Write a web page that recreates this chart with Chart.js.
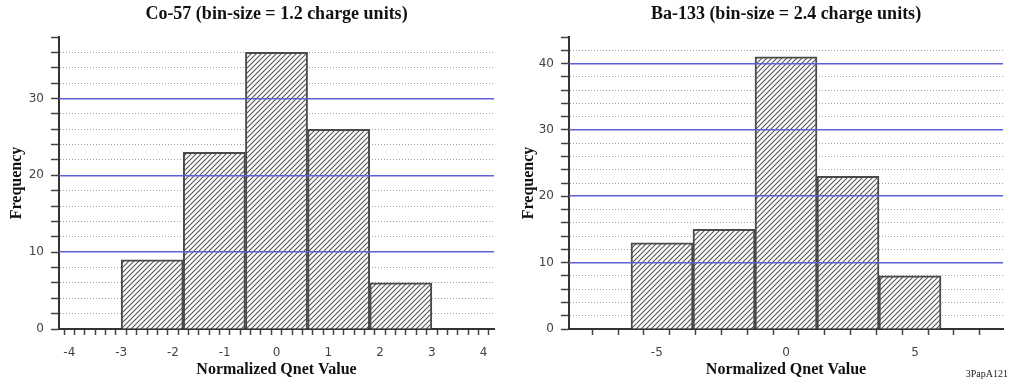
<!DOCTYPE html>
<html>
<head>
<meta charset="utf-8">
<script src="https://cdn.jsdelivr.net/npm/chart.js@4/dist/chart.umd.min.js"></script>
<style>
  html, body { margin: 0; padding: 0; background: #fff; }
  #wrap { position: relative; width: 1011px; height: 385px; }
  .pane { position: absolute; top: 0; height: 385px; }
  #left { left: 0; width: 505px; }
  #right { left: 505px; width: 506px; }
</style>
</head>
<body>
<div id="wrap">
  <div class="pane" id="left"><canvas id="co57"></canvas></div>
  <div class="pane" id="right"><canvas id="ba133"></canvas></div>
</div>
<script>
// Co-57 histogram: bin centres (bin width 1.2) and counts
const coBinCenters = [-2.4, -1.2, 0, 1.2, 2.4];
const coCounts = [9, 23, 36, 26, 6];
const coTitle = 'Co-57 (bin-size = 1.2 charge units)';

// Ba-133 histogram: bin centres (bin width 2.4) and counts
const baBinCenters = [-4.8, -2.4, 0, 2.4, 4.8];
const baCounts = [13, 15, 41, 23, 8];
const baTitle = 'Ba-133 (bin-size = 2.4 charge units)';

// Axis labels
const xAxisLabel = 'Normalized Qnet Value';
const yAxisLabel = 'Frequency';
const figureTag = '3PapA121';

// Diagonal hatch fill for the bars
function makeHatch() {
  const s = 5;
  const c = document.createElement('canvas');
  c.width = s; c.height = s;
  const g = c.getContext('2d');
  g.fillStyle = '#ffffff';
  g.fillRect(0, 0, s, s);
  g.strokeStyle = '#555555';
  g.lineWidth = 1.1;
  g.beginPath();
  g.moveTo(0, s); g.lineTo(s, 0);
  g.moveTo(-1, 1); g.lineTo(1, -1);
  g.moveTo(s - 1, s + 1); g.lineTo(s + 1, s - 1);
  g.stroke();
  return g.createPattern(c, 'repeat');
}
const hatch = makeHatch();

const serifBold = (size) => ({ family: '"Liberation Serif", "Times New Roman", serif', weight: 'bold', size: size, lineHeight: 1.2 });
const tickFont = { family: '"DejaVu Sans", Verdana, sans-serif', size: 12 };

// evenly spaced values from a up to (not past) b
function frange(a, b, step) {
  const out = [];
  const n = Math.floor((b - a) / step + 1e-9);
  for (let i = 0; i <= n; i++) out.push(+(a + i * step).toFixed(6));
  return out;
}

function buildChart(canvasId, cfg) {
  const data = cfg.centers.map((x, i) => ({ x: x, y: cfg.counts[i] }));
  return new Chart(document.getElementById(canvasId), {
    type: 'bar',
    data: {
      datasets: [{
        data: data,
        xAxisID: 'bins',
        yAxisID: 'y',
        backgroundColor: hatch,
        borderColor: '#4a4a4a',
        borderWidth: 2,
        borderSkipped: 'bottom',
        categoryPercentage: 1.0,
        barPercentage: 1.0
      }]
    },
    options: {
      responsive: true,
      maintainAspectRatio: false,
      animation: false,
      layout: { padding: { left: 0, right: cfg.padRight, top: 0, bottom: 0 } },
      plugins: {
        legend: { display: false },
        tooltip: { enabled: false },
        title: {
          display: true,
          text: cfg.title,
          fullSize: false,
          color: '#111',
          font: serifBold(18),
          padding: { top: 4, bottom: 11.4 }
        }
      },
      scales: {
        // hidden scale that places the bars; its ticks sit on the bin centres
        bins: {
          type: 'linear',
          display: false,
          position: 'bottom',
          min: cfg.xMin,
          max: cfg.xMax,
          offset: false,
          afterBuildTicks: (s) => { s.ticks = cfg.centers.map(v => ({ value: v })); }
        },
        x: {
          type: 'linear',
          position: 'bottom',
          min: cfg.xMin,
          max: cfg.xMax,
          offset: false,
          afterBuildTicks: (s) => { s.ticks = cfg.xTicks.map(v => ({ value: v })); },
          afterFit: (s) => { s.height = 56; },
          ticks: {
            autoSkip: false,
            maxRotation: 0,
            color: '#444',
            font: tickFont,
            padding: 11,
            callback: (v) => cfg.xLabels.includes(+v.toFixed(6)) ? String(Math.round(v)) : ''
          },
          grid: {
            drawOnChartArea: false,
            drawTicks: true,
            tickLength: 6,
            tickColor: '#444',
            tickWidth: 1.5
          },
          border: { display: true, color: '#333', width: 2 },
          title: {
            display: true,
            text: xAxisLabel,
            color: '#111',
            font: serifBold(16),
            padding: { top: 0, bottom: 5.4 }
          }
        },
        // frequency axis: labels, tick marks and the dotted minor grid
        y: {
          type: 'linear',
          position: 'left',
          min: 0,
          max: cfg.yMax,
          afterBuildTicks: (s) => { s.ticks = frange(0, cfg.yMax, 2).map(v => ({ value: v })); },
          afterFit: (s) => { s.width = cfg.yWidth; },
          ticks: {
            autoSkip: false,
            color: '#444',
            font: tickFont,
            padding: 7,
            callback: (v) => (v % 10 === 0) ? String(v) : ''
          },
          grid: {
            drawTicks: true,
            tickLength: 8,
            tickColor: '#444',
            tickWidth: 1.5,
            color: (ctx) => {
              const v = ctx.tick ? ctx.tick.value : 0;
              if (v % 10 === 0 || v === cfg.yMax) return 'rgba(0,0,0,0)';
              return 'rgb(160,160,160)';
            },
            lineWidth: 1
          },
          border: {
            display: true,
            color: '#333',
            width: 2,
            dash: [1, 2]
          },
          title: {
            display: true,
            text: yAxisLabel,
            color: '#111',
            font: serifBold(16),
            padding: { top: cfg.yTitlePad, bottom: 0 }
          }
        },
        // same range; draws only the blue lines every 10, above the bars
        yMajor: {
          type: 'linear',
          position: 'left',
          min: 0,
          max: cfg.yMax,
          afterBuildTicks: (s) => { s.ticks = frange(10, cfg.yMax, 10).map(v => ({ value: v })); },
          afterFit: (s) => { s.width = 0; },
          ticks: { display: false },
          border: { display: false },
          grid: {
            z: 1,
            drawTicks: false,
            tickLength: 0,
            color: 'rgb(95,95,215)',
            lineWidth: 1.6
          }
        }
      }
    },
    plugins: cfg.extraPlugins || []
  });
}

// Small figure tag in the lower-right corner
const figureTagPlugin = {
  id: 'figureTag',
  afterDraw(chart) {
    const g = chart.ctx;
    g.save();
    g.font = '10px "Liberation Serif", "Times New Roman", serif';
    g.fillStyle = '#222';
    g.textAlign = 'right';
    g.textBaseline = 'middle';
    g.fillText(figureTag, chart.width - 3, 374);
    g.restore();
  }
};

buildChart('co57', {
  centers: coBinCenters,
  counts: coCounts,
  title: coTitle,
  xMin: -4.2, xMax: 4.2,
  xTicks: frange(-4.2, 4.2, 0.2),
  xLabels: [-4, -3, -2, -1, 0, 1, 2, 3, 4],
  yMax: 38,
  yWidth: 59,
  yTitlePad: 7.4,
  padRight: 10
});

buildChart('ba133', {
  centers: baBinCenters,
  counts: baCounts,
  title: baTitle,
  xMin: -8.4, xMax: 8.4,
  xTicks: frange(-8, 8, 1),
  xLabels: [-5, 0, 5],
  yMax: 44,
  yWidth: 64,
  yTitlePad: 14.4,
  padRight: 8,
  extraPlugins: [figureTagPlugin]
});
</script>
</body>
</html>
